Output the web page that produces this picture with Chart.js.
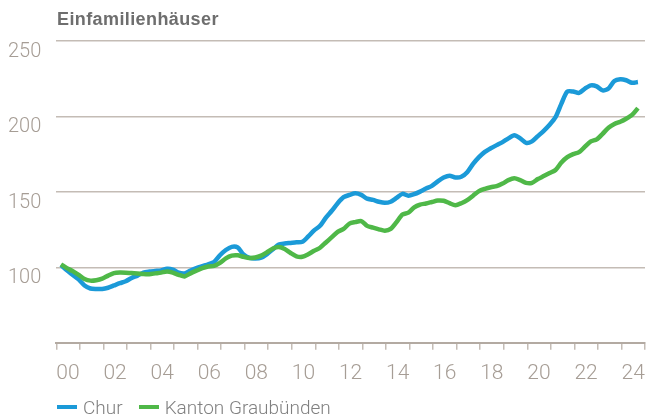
<!DOCTYPE html>
<html>
<head>
<meta charset="utf-8">
<script src="https://cdn.jsdelivr.net/npm/chart.js@4/dist/chart.umd.min.js"></script>
<style>
  body { margin: 0; background: #fff; }
  #wrap { position: relative; width: 648px; height: 419px; }
  #title { position: absolute; left: 57px; top: 9px; font: bold 18px "Liberation Sans", Arial, sans-serif; letter-spacing: 0.4px; color: #6e6e6e; }
  #legend { position: absolute; left: 57px; top: 396px; font: 300 19px Roboto, sans-serif; color: #808080; }
  #legend span.item { display: inline-block; margin-right: 16px; }
  #legend i { display: inline-block; width: 20px; height: 4px; vertical-align: middle; margin-right: 6px; position: relative; top: -2px; }
</style>
</head>
<body>
<div id="wrap">
  <canvas id="myChart" width="648" height="419"></canvas>
  <div id="title">Einfamilienhäuser</div>
  <div id="legend"></div>
</div>
<script>
// quarterly index values, 2000 Q1 .. 2024 Q3
var chur = [
  101.5, 98, 95, 92, 88, 86, 85.7, 85.7, 86.5, 88, 89.5, 90.8,
  93, 94.5, 96.5, 97.2, 97.6, 98, 99, 98.5, 96.5, 96, 97.8, 99.5,
  100.8, 102, 103.5, 108, 111.5, 113.6, 113.2, 108.5, 106.3, 105.9, 106.4, 108.8,
  112, 115.2, 115.8, 116.2, 116.6, 116.9, 120.5, 124.5, 127.5, 133, 137.5, 142.5,
  146.5, 148, 149.1, 148, 145.5, 144.7, 143.5, 142.8, 143.5, 146, 148.7,
  147.5, 148.5, 150.2, 152.2, 154, 157, 159.5, 160.7, 159.6, 160, 163, 168.5,
  173, 176.5, 178.9, 181, 183, 185.5, 187.5, 185.5, 182.5, 183.5, 187, 190.5,
  194.5, 199.5, 208.5, 216.5, 216.5, 215.6, 218.5, 220.6, 219.9, 217.3, 218.5, 223.5,
  224.6, 224, 222.3, 222.8
];
var graubuenden = [
  102, 99.5, 97.5, 95, 92.3, 91.2, 91.5, 92.5, 94.5, 96.2, 96.6, 96.5,
  96.2, 96, 95.6, 95.5, 96, 96.5, 97.3, 96.5, 95, 94, 96, 97.8,
  99.5, 100.6, 101, 103, 106, 107.8, 108, 107, 106.2, 106.5, 107.8, 110,
  112.5, 113.5, 112.2, 109.5, 107.3, 107, 108.7, 111, 113, 116.5, 120, 123.5,
  125.5, 129, 130, 130.7, 127.5, 126.3, 125.2, 124.3, 125.5, 130, 135,
  136.3, 139.8, 141.6, 142.3, 143.3, 144.3, 144.1, 142.5, 141.2, 142.5, 144.5, 147.5,
  150.5, 152, 153.1, 153.8, 155.5, 157.8, 159, 157.8, 156, 156, 158.5, 160.5,
  162.5, 164.5, 169.5, 173, 175, 176.3, 180, 183.5, 184.8, 188.5, 192.5, 195,
  196.5, 198.5, 201, 205.5
];
var seriesNames = ["Chur", "Kanton Graubünden"];
var seriesColors = ["#1b9ad8", "#4fb848"];
var yTicks = [100, 150, 200, 250];
var firstYear = 2000;
var lastYear = 2025;

function toPoints(values) {
  // one point per quarter
  var pts = [];
  for (var i = 0; i < values.length; i++) {
    pts.push({ x: firstYear + 0.2 + i / 4, y: values[i] });
  }
  return pts;
}

var gridColor = "#c4bcb5";
var labelColor = "#a69d95";

var ctx = document.getElementById("myChart").getContext('2d');
var chart = new Chart(ctx, {
  type: 'line',
  data: {
    datasets: [{
      label: seriesNames[0],
      data: toPoints(chur),
      borderColor: seriesColors[0],
      backgroundColor: seriesColors[0],
      borderWidth: 4.5,
      pointRadius: 0,
      tension: 0.25,
      borderJoinStyle: 'round',
      order: 2
    }, {
      label: seriesNames[1],
      data: toPoints(graubuenden),
      borderColor: seriesColors[1],
      backgroundColor: seriesColors[1],
      borderWidth: 4.5,
      pointRadius: 0,
      tension: 0.25,
      borderJoinStyle: 'round',
      order: 1
    }]
  },
  options: {
    responsive: false,
    animation: false,
    layout: { padding: { left: 8, right: 3, top: 41, bottom: 22 } },
    plugins: {
      legend: { display: false },
      tooltip: { enabled: false }
    },
    scales: {
      x: {
        type: 'linear',
        min: firstYear,
        max: lastYear,
        afterBuildTicks: function (axis) {
          var t = [];
          for (var y = firstYear; y <= lastYear; y++) t.push({ value: y });
          axis.ticks = t;
        },
        afterFit: function (axis) {
          // labels sit between ticks, so no extra side padding needed
          axis.paddingLeft = 0;
          axis.paddingRight = 0;
        },
        ticks: {
          autoSkip: false,
          maxRotation: 0,
          padding: 11,
          labelOffset: 11.7,
          color: labelColor,
          font: { family: 'Roboto', weight: '300', size: 21 },
          callback: function (v) {
            if (v % 2 !== 0 || v >= lastYear) return '';
            return String(v % 100).padStart(2, '0');
          }
        },
        grid: { drawOnChartArea: false, tickLength: 7, color: gridColor, lineWidth: 1.5 },
        border: { display: true, color: "#b3aaa2", width: 2 }
      },
      y: {
        min: 50,
        max: 250,
        afterBuildTicks: function (axis) {
          axis.ticks = yTicks.map(function (v) { return { value: v }; });
        },
        ticks: {
          padding: 7.5,
          crossAlign: 'far',
          labelOffset: 11,
          color: labelColor,
          font: { family: 'Roboto', weight: '300', size: 20 }
        },
        grid: { drawTicks: false, color: gridColor, lineWidth: 1.5 },
        border: { display: false }
      }
    }
  }
});

// html legend
var legendBox = document.getElementById("legend");
for (var i = 0; i < seriesNames.length; i++) {
  var item = document.createElement('span');
  item.className = 'item';
  item.innerHTML = '<i style="background:' + seriesColors[i] + '"></i>' + seriesNames[i];
  legendBox.appendChild(item);
}
</script>
</body>
</html>
